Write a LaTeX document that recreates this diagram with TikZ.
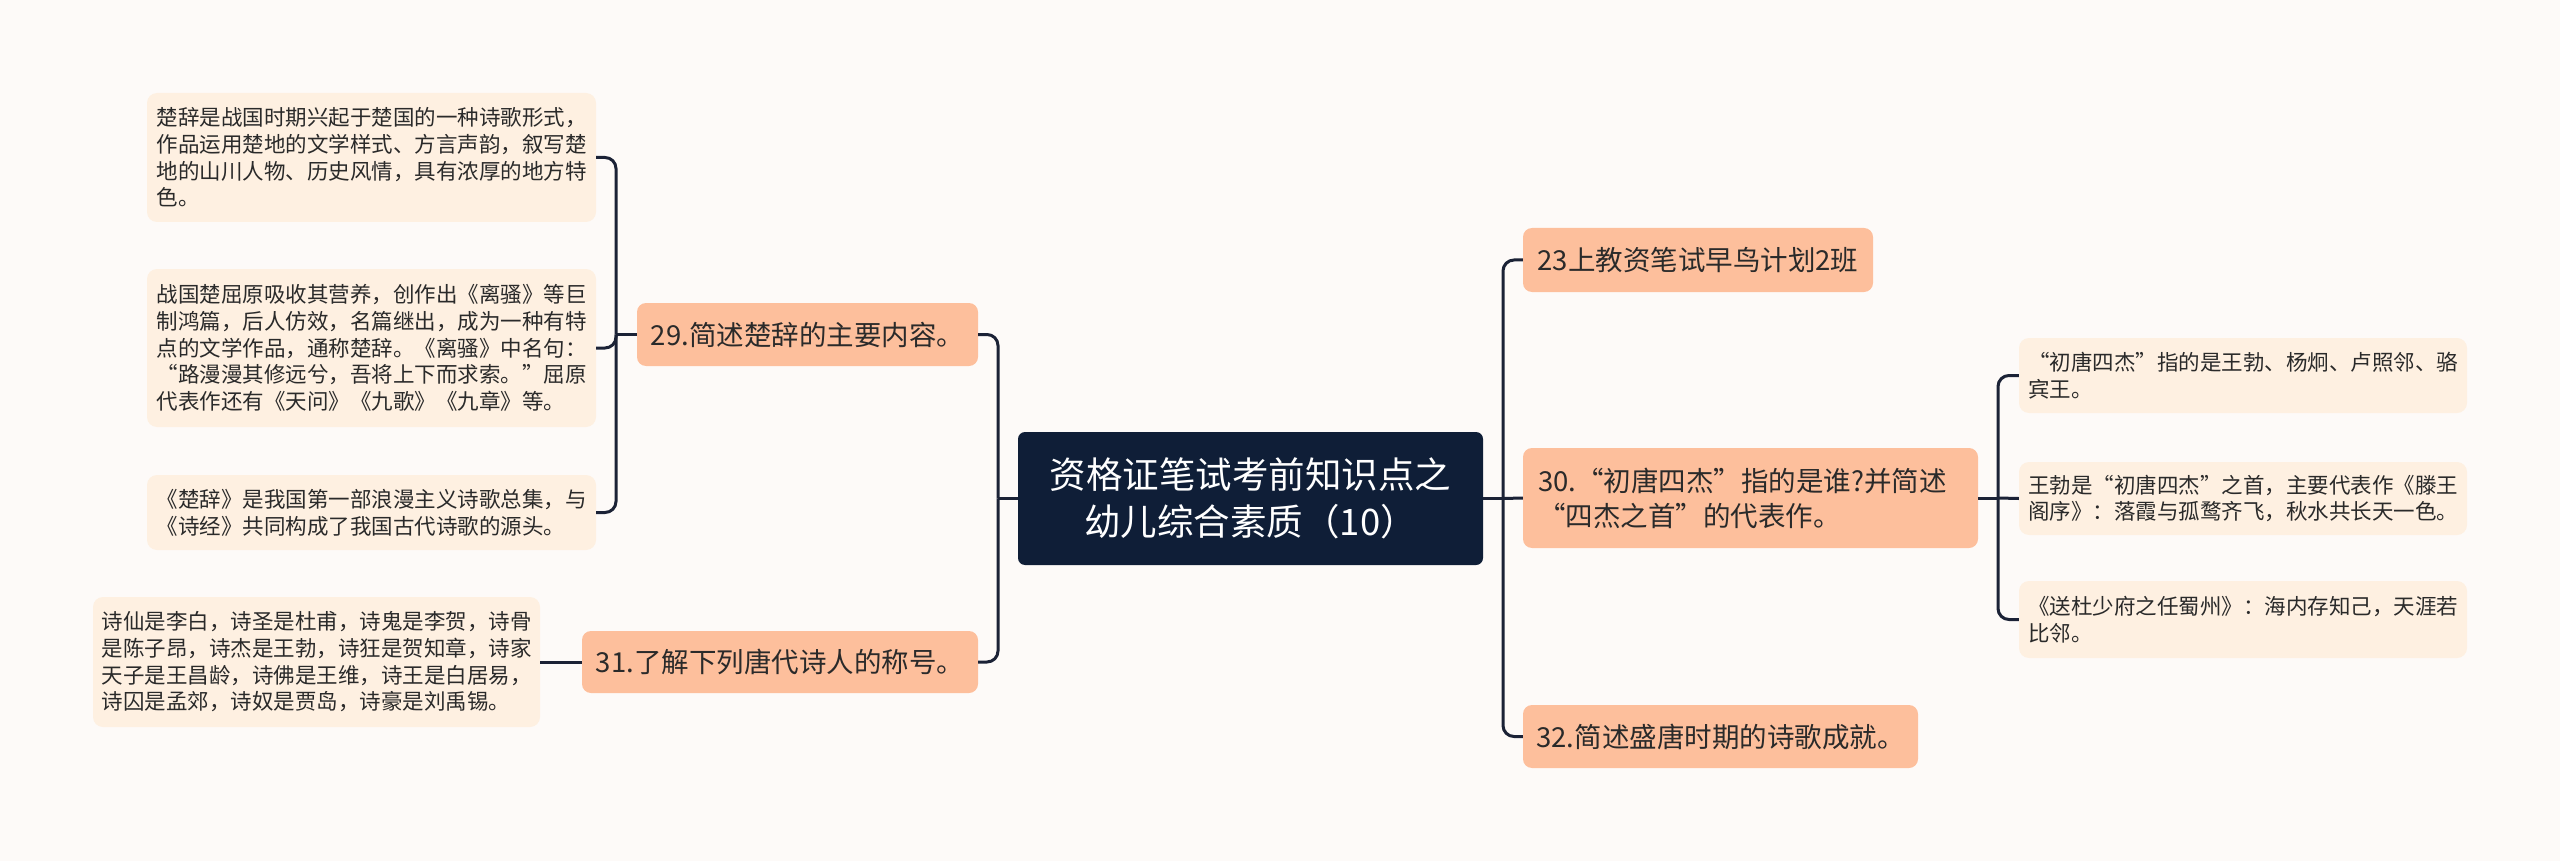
\documentclass[tikz,border=0pt]{standalone}
\usepackage{fontspec}
\setmainfont{Noto Sans CJK SC}
\definecolor{bgc}{HTML}{FDFAF8}
\definecolor{rootc}{HTML}{0F1E37}
\definecolor{peach}{HTML}{FDBF9C}
\definecolor{cream}{HTML}{FEF0E1}
\definecolor{linec}{HTML}{1B2236}
\definecolor{txt}{HTML}{2A2A2A}
\tikzset{
  rootbox/.style={fill=rootc, text=white, rounded corners=7pt, align=center, inner sep=0pt,
    font=\fontsize{36.5}{47}\selectfont},
  topicbox/.style={fill=peach, text=txt, rounded corners=9pt, align=left, inner sep=0pt,
    font=\fontsize{27.5}{35}\selectfont},
  leafbox/.style={fill=cream, text=txt, rounded corners=10pt, align=left, inner sep=0pt,
    font=\fontsize{21.5}{26.7}\selectfont},
  conn/.style={draw=linec, line width=3pt, rounded corners=11pt}
}
\begin{document}
\begin{tikzpicture}[x=1pt,y=-1pt]
\fill[bgc] (0,0) rectangle (2560,861);
\useasboundingbox (0,0) rectangle (2560,861);

% root
\node[rootbox, minimum width=465pt, minimum height=133pt] (root) at (1250.5,498.5)
  {资格证笔试考前知识点之\\幼儿综合素质（10）};

% left topics
\node[topicbox, minimum width=341pt, minimum height=63pt] (n29) at (807.5,334.5)
  {29.简述楚辞的主要内容。};
\node[topicbox, minimum width=396pt, minimum height=62pt] (n31) at (780,662)
  {31.了解下列唐代诗人的称号。};

% right topics
\node[topicbox, minimum width=350pt, minimum height=64pt] (n23) at (1698,260)
  {23上教资笔试早鸟计划2班};
\node[topicbox, text width=425pt, inner xsep=15pt, minimum height=100pt] (n30) at (1750.5,498)
  {30.“初唐四杰”指的是谁?并简述\\“四杰之首”的代表作。};
\node[topicbox, minimum width=395pt, minimum height=63pt] (n32) at (1720.5,736.5)
  {32.简述盛唐时期的诗歌成就。};

% left leaves
\node[leafbox, minimum width=449pt, minimum height=129pt] (c1) at (371.5,157.5)
  {楚辞是战国时期兴起于楚国的一种诗歌形式，\\作品运用楚地的文学样式、方言声韵，叙写楚\\地的山川人物、历史风情，具有浓厚的地方特\\色。};
\node[leafbox, minimum width=449pt, minimum height=158pt] (c2) at (371.5,348)
  {战国楚屈原吸收其营养，创作出《离骚》等巨\\制鸿篇，后人仿效，名篇继出，成为一种有特\\点的文学作品，通称楚辞。《离骚》中名句：\\“路漫漫其修远兮，吾将上下而求索。”屈原\\代表作还有《天问》《九歌》《九章》等。};
\node[leafbox, minimum width=449pt, minimum height=75pt] (c3) at (371.5,512.5)
  {《楚辞》是我国第一部浪漫主义诗歌总集，与\\《诗经》共同构成了我国古代诗歌的源头。};
\node[leafbox, minimum width=447pt, minimum height=130pt] (c4) at (316.5,662)
  {诗仙是李白，诗圣是杜甫，诗鬼是李贺，诗骨\\是陈子昂，诗杰是王勃，诗狂是贺知章，诗家\\天子是王昌龄，诗佛是王维，诗王是白居易，\\诗囚是孟郊，诗奴是贾岛，诗豪是刘禹锡。};

% right leaves
\node[leafbox, minimum width=448pt, minimum height=75pt] (r1) at (2243,375.5)
  {“初唐四杰”指的是王勃、杨炯、卢照邻、骆\\宾王。};
\node[leafbox, minimum width=448pt, minimum height=73pt] (r2) at (2243,498.5)
  {王勃是“初唐四杰”之首，主要代表作《滕王\\阁序》：落霞与孤鹜齐飞，秋水共长天一色。};
\node[leafbox, minimum width=448pt, minimum height=77pt] (r3) at (2243,619.5)
  {《送杜少府之任蜀州》：海内存知己，天涯若\\比邻。};

% junctions
\coordinate (jl) at (998,498.5);
\coordinate (jr) at (1503,498.5);
\coordinate (j29) at (616,334.5);
\coordinate (j30) at (1998,498);

% connectors
\draw[conn] (root.west) -- (jl);
\draw[conn] (jl) |- (n29.east);
\draw[conn] (jl) |- (n31.east);
\draw[conn] (root.east) -- (jr);
\draw[conn] (jr) |- (n23.west);
\draw[conn] (jr) |- (n32.west);
\draw[conn] (jr) -- (n30.west);
\draw[conn] (n29.west) -- (j29);
\draw[conn] (j29) |- (c1.east);
\draw[conn] (j29) |- (c2.east);
\draw[conn] (j29) |- (c3.east);
\draw[conn] (n31.west) -- (c4.east);
\draw[conn] (n30.east) -- (j30);
\draw[conn] (j30) |- (r1.west);
\draw[conn] (j30) -- (r2.west);
\draw[conn] (j30) |- (r3.west);
\end{tikzpicture}
\end{document}
